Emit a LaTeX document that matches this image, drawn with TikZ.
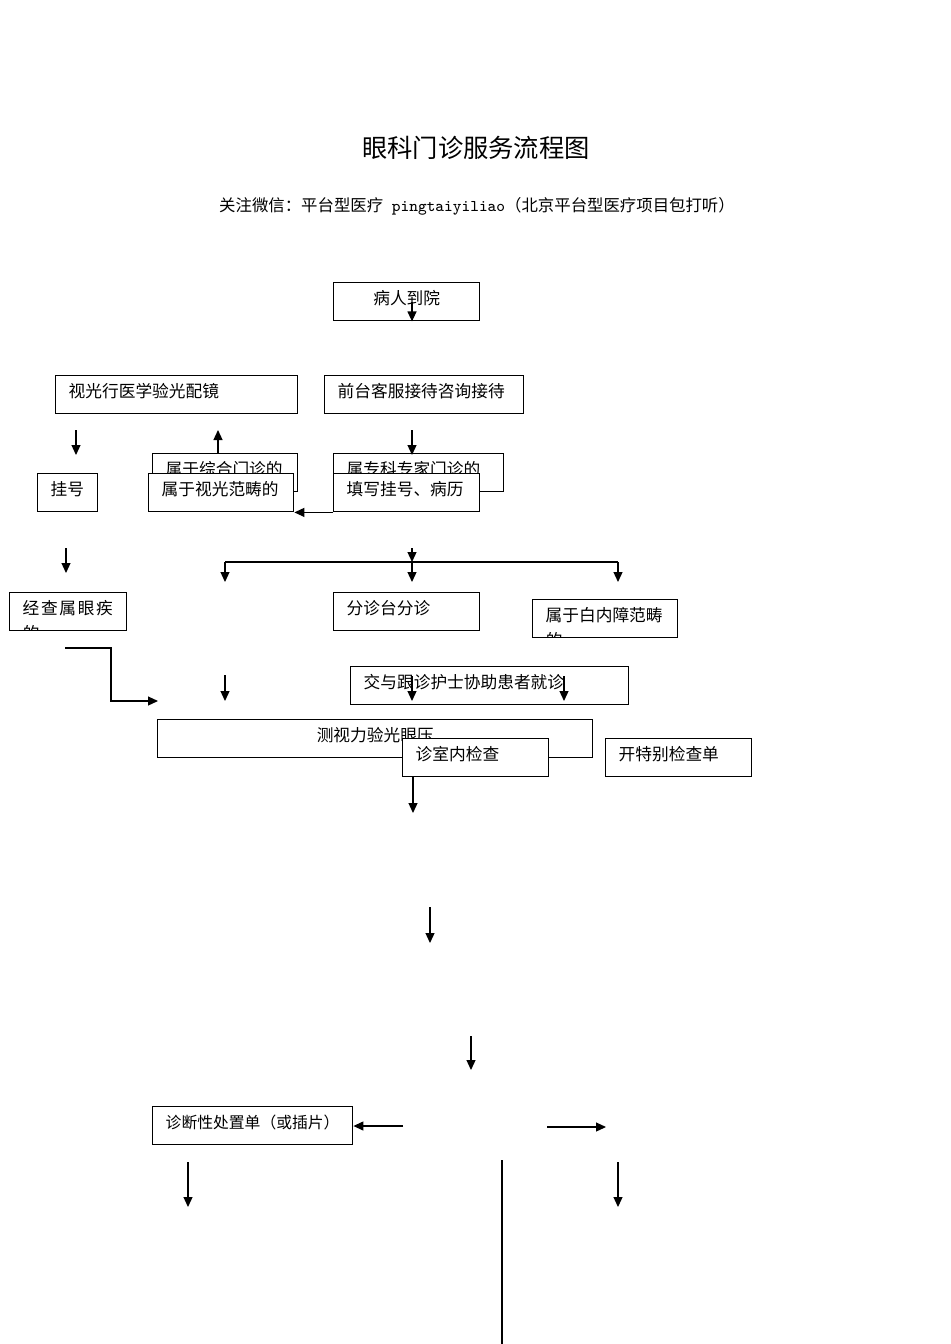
\documentclass[tikz,border=0pt]{standalone}
\usepackage{fontspec}
\newfontfamily\cjk{Noto Sans CJK SC}
\usetikzlibrary{arrows.meta,positioning}

\begin{document}
\begin{tikzpicture}[
      x=0.5pt,y=-0.5pt,
      box/.style={
         rectangle,
         draw=black,
         fill=white,
         line width=0.7pt,
         anchor=north west,
         minimum height=19pt,
         inner xsep=6.5pt,
         inner ysep=0pt,
         text width=#1,
         align=left,
         text height=7pt,
         text depth=4.6pt,
         font=\cjk\fontsize{8.35}{10}\selectfont
      },
      cut/.style={
         path picture={
            \node[inner sep=0pt,anchor=center,text width=,text height=,text depth=,
                  font=\cjk\fontsize{8.35}{10}\selectfont]
               at ([xshift=10.7pt,yshift=-20pt]path picture bounding box.north west) {#1};
         }
      },
      >={Triangle[length=5pt,width=4.5pt]},
      line/.style={line width=0.6pt,draw=black},
      tip/.style={line,->}
    ]
    \useasboundingbox (0,0) rectangle (950,1344);

    \node (title) at (476,148) [font=\cjk\fontsize{12.65}{15}\selectfont] {眼科门诊服务流程图};
    \node (subtitle) at (477,206) [font=\cjk\fontsize{8.2}{10}\selectfont]
       {关注微信：平台型医疗{\ttfamily\ pingtaiyiliao}（北京平台型医疗项目包打听）};

    \node (arrive) at (333,282) [box=60pt, align=center] {病人到院};
    \node (shop) at (55,375) [box=108pt] {视光行医学验光配镜};
    \node (desk) at (324,375) [box=86.5pt] {前台客服接待咨询接待};
    \node (reg) at (37,473) [box=17pt] {挂号};
    \node (general) at (152,453) [box=59.5pt] {属于综合门诊的};
    \node (optic) at (148,473) [box=59.5pt] {属于视光范畴的};
    \node (expert) at (333,453) [box=72pt] {属专科专家门诊的};
    \node (fill) at (333,473) [box=60pt] {填写挂号、病历};
    \node (eyedis) at (9,592) [box=45.5pt, cut=的] {{\addfontfeature{LetterSpace=10}经查属眼疾}};
    \node (triage) at (333,592) [box=60pt] {分诊台分诊};
    \node (cataract) at (532,599) [box=59.5pt, cut=的] {属于白内障范畴};
    \node (nurse) at (350,666) [box=126pt] {交与跟诊护士协助患者就诊};
    \node (vision) at (157,719) [box=204.5pt, align=center] {测视力验光眼压};
    \node (room) at (402,738) [box=60pt] {诊室内检查};
    \node (special) at (605,738) [box=60pt] {开特别检查单};
    \node (diag) at (152,1106) [box=87pt, font=\cjk\fontsize{7.9}{10}\selectfont] {诊断性处置单（或插片）};

    \foreach \n/\x/\ya/\yb in {1/76/430/455, 2/412/430/455, 3/66/548/573, 4/412/548/562,
       5/225/562/582, 6/412/562/582, 7/618/562/582, 8/225/675/701, 9/412/676/701,
       10/564/676/701, 11/430/907/943, 12/471/1036/1070, 13/188/1162/1207, 14/618/1162/1207} {
       \coordinate (s\n) at (\x,\ya);
       \coordinate (t\n) at (\x,\yb);
       \draw[tip] (s\n) -- (t\n);
    }

    \coordinate (a1) at (412,302);
    \draw[tip] (a1) -- (a1 |- arrive.south);
    \coordinate (u1) at (218,430);
    \draw[tip] (u1 |- general.north) -- (u1);
    \draw[tip] (fill.south west) -- (optic.south east);
    \draw[line] (s5) -- (s7);
    \coordinate (k1) at (65,648);
    \coordinate (k2) at (158,701);
    \draw[tip] (k1) -- ++(46,0) |- (k2);
    \coordinate (r1) at (413,813);
    \draw[tip] (r1 |- room.south) -- (r1);
    \coordinate (h1) at (403,1126);
    \draw[tip] (h1) -- (h1 -| diag.east);
    \coordinate (h2) at (547,1127);
    \coordinate (h3) at (606,1127);
    \draw[tip] (h2) -- (h3);
    \coordinate (v1) at (502,1160);
    \coordinate (v2) at (502,1344);
    \draw[line] (v1) -- (v2);
\end{tikzpicture}
\end{document}
